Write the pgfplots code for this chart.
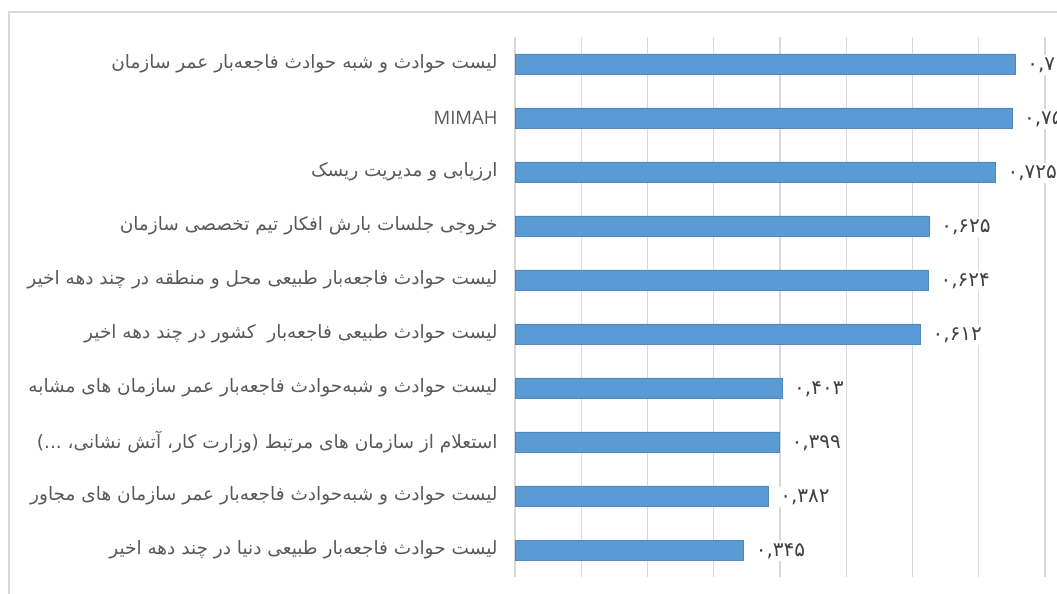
\documentclass[border=0pt]{standalone}
\usepackage{pgfplots}
\pgfplotsset{compat=1.18}
\usepackage{pgfplotstable}
\usepackage{fontspec}
\setmainfont{DejaVu Sans}
\newfontfamily\arabicfont[Script=Arabic]{DejaVu Sans}
\newfontfamily\numfont{DejaVu Sans}
\newfontfamily\latinfont{Open Sans}
\TeXXeTstate=1
\definecolor{barblue}{HTML}{5B9BD5}
\definecolor{gridgray}{HTML}{D9D9D9}
\definecolor{txt}{HTML}{595959}
\definecolor{numtxt}{HTML}{404040}
\def\threedots{.\kern0pt.\kern0pt.}

\pgfplotstableread{
y x lab
0 0.345 ۰,۳۴۵
1 0.382 ۰,۳۸۲
2 0.399 ۰,۳۹۹
3 0.403 ۰,۴۰۳
4 0.612 ۰,۶۱۲
5 0.624 ۰,۶۲۴
6 0.625 ۰,۶۲۵
7 0.725 ۰,۷۲۵
8 0.75 ۰,۷۵
9 0.755 ۰,۷
}\datatable

\begin{document}
\begin{tikzpicture}
\path[use as bounding box] (0,0) rectangle (1057pt,594pt);
\draw[gridgray, line width=1.2pt] (9pt,0) -- (9pt,582pt) -- (1057pt,582pt);
\begin{axis}[
  at={(515pt,17pt)}, anchor=south west,
  width=530pt, height=540pt, scale only axis,
  xmin=0, xmax=0.8, ymin=-0.5, ymax=9.5,
  xtick={0,0.1,0.2,0.3,0.4,0.5,0.6,0.7,0.8}, xticklabels={},
  ytick={0,1,2,3,4,5,6,7,8,9},
  yticklabels={
    {\beginR لیست حوادث فاجعه‌بار طبیعی دنیا در چند دهه اخیر\endR},
    {\beginR لیست حوادث و شبه‌حوادث فاجعه‌بار عمر سازمان های مجاور\endR},
    {\beginR استعلام از سازمان های مرتبط (وزارت کار، آتش نشانی، \threedots)\endR},
    {\beginR لیست حوادث و شبه‌حوادث فاجعه‌بار عمر سازمان های مشابه\endR},
    {\beginR لیست حوادث طبیعی فاجعه‌بار\ \ کشور در چند دهه اخیر\endR},
    {\beginR لیست حوادث فاجعه‌بار طبیعی محل و منطقه در چند دهه اخیر\endR},
    {\beginR خروجی جلسات بارش افکار تیم تخصصی سازمان\endR},
    {\beginR ارزیابی و مدیریت ریسک\endR},
    {\latinfont MIMAH},
    {\beginR لیست حوادث و شبه حوادث فاجعه‌بار عمر سازمان\endR}
  },
  xmajorgrids, major grid style={gridgray, line width=1.2pt},
  axis line style={draw=none},
  tick style={draw=none},
  yticklabel style={font=\arabicfont\fontsize{18.5}{22}\selectfont, text=txt, inner sep=0pt, xshift=-13pt},
  xbar, bar width=20pt,
  clip=false,
  point meta=explicit symbolic,
  nodes near coords,
  nodes near coords style={font=\numfont\fontsize{20}{24}\selectfont, text=numtxt, fill=white, anchor=west, inner sep=2pt, xshift=10pt, yshift=-1pt},
]
\addplot[draw=barblue!80!black!60!barblue, fill=barblue] table[x=x, y=y, meta=lab] {\datatable};
\end{axis}
\end{tikzpicture}
\end{document}
